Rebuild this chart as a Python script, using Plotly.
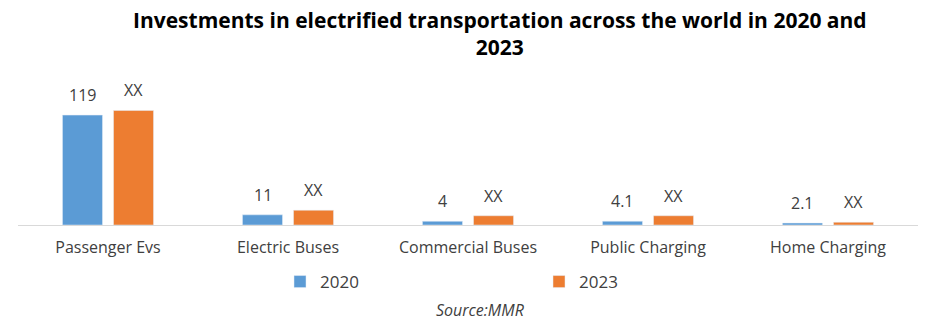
import plotly.graph_objects as go

categories = ["Passenger Evs", "Electric Buses", "Commercial Buses", "Public Charging", "Home Charging"]
values_2020 = [119, 11, 4, 4.1, 2.1]
values_2023 = [124, 16, 10, 10, 3]
labels_2020 = ["119", "11", "4", "4.1", "2.1"]
labels_2023 = ["XX", "XX", "XX", "XX", "XX"]

FONT = "Open Sans, Arial"
TEXT_COLOR = "#404040"

# plot area geometry (pixels) used to place paper-referenced text
PLOT_TOP, PLOT_BOTTOM = 80, 225
PLOT_H = PLOT_BOTTOM - PLOT_TOP


def paper_y(px):
    return (PLOT_BOTTOM - px) / PLOT_H


fig = go.Figure()
fig.add_trace(go.Bar(name="2020", x=categories, y=values_2020,
                     marker_color="#5B9BD5", cliponaxis=False))
fig.add_trace(go.Bar(name="2023", x=categories, y=values_2023,
                     marker_color="#ED7D31", cliponaxis=False))

annotations = []
# value labels above each bar, offset to the bar's slot within the group
for vals, labs, shift in ((values_2020, labels_2020, -25.5), (values_2023, labels_2023, 25.5)):
    for c, v, t in zip(categories, vals, labs):
        annotations.append(dict(
            x=c, y=v, xref="x", yref="y", text=t, showarrow=False,
            xshift=shift, yshift=7, yanchor="bottom", xanchor="center",
            font=dict(size=16, color=TEXT_COLOR, family=FONT),
        ))

annotations.append(dict(
    text="<b>Investments in electrified transportation across the world in 2020 and<br>2023</b>",
    xref="paper", yref="paper", x=(500 - 18) / 900, y=paper_y(33.5),
    xanchor="center", yanchor="middle", showarrow=False,
    font=dict(size=21, color="black", family=FONT),
))
annotations.append(dict(
    text="<i>Source:MMR</i>", xref="paper", yref="paper",
    x=(480 - 18) / 900, y=paper_y(310), xanchor="center", yanchor="middle",
    showarrow=False, font=dict(size=16, color=TEXT_COLOR, family=FONT),
))

fig.update_layout(
    width=940, height=326,
    margin=dict(l=18, r=22, t=PLOT_TOP, b=326 - PLOT_BOTTOM, autoexpand=False),
    paper_bgcolor="white", plot_bgcolor="white",
    barmode="group", bargap=0.433, bargroupgap=0.216,
    font=dict(family=FONT, color=TEXT_COLOR),
    xaxis=dict(
        showline=True, linecolor="#D9D9D9", linewidth=1,
        tickfont=dict(size=16, color=TEXT_COLOR, family=FONT),
        ticks="", showgrid=False, ticklabelstandoff=8,
    ),
    yaxis=dict(visible=False, range=[0, 157], showgrid=False, zeroline=False),
    legend=dict(
        orientation="h", x=(280 - 18) / 900, xanchor="left",
        y=paper_y(282), yanchor="middle",
        font=dict(size=17, color=TEXT_COLOR, family=FONT),
        entrywidth=214, entrywidthmode="pixels", itemwidth=30,
    ),
    showlegend=True,
    annotations=annotations,
)

fig.write_html("out.html")
